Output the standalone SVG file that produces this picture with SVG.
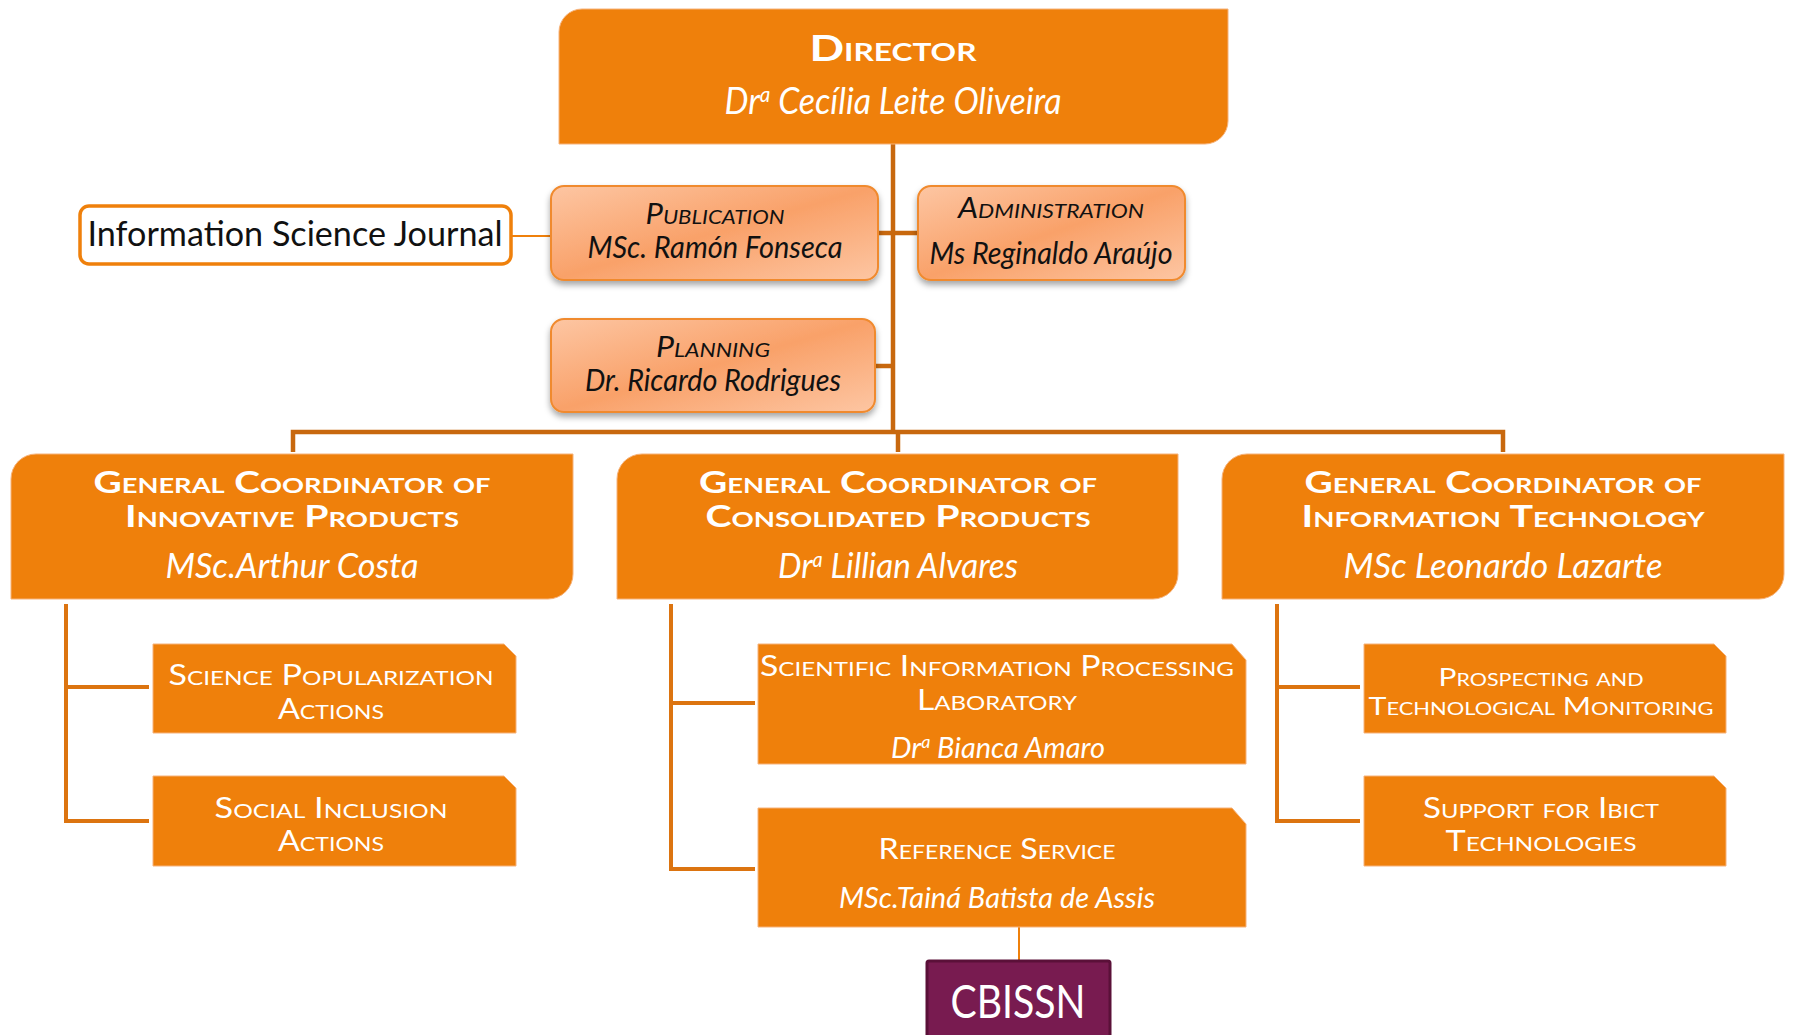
<svg xmlns="http://www.w3.org/2000/svg" width="1793" height="1035" viewBox="0 0 1793 1035">
<defs>
<linearGradient id="peach" x1="0" y1="0" x2="1" y2="1">
<stop offset="0" stop-color="#FDC6A3"/>
<stop offset="0.5" stop-color="#F9A169"/>
<stop offset="1" stop-color="#FDC6A3"/>
</linearGradient>
<filter id="shadow" x="-10%" y="-10%" width="120%" height="140%">
<feDropShadow dx="0" dy="4" stdDeviation="3" flood-color="#000" flood-opacity="0.35"/>
</filter>
</defs>
<style>
.main{fill:#EF800B;stroke:#F6B27A;stroke-width:1}
.peach{fill:url(#peach);stroke:#F08A2E;stroke-width:2;filter:url(#shadow)}
.trunk{stroke:#C8680E;stroke-width:4.5;fill:none}
.branch{stroke:#DC7410;stroke-width:4;fill:none}
.thin{stroke:#EF800B;stroke-width:2;fill:none}
text{font-family:Lato,"Open Sans","Liberation Sans",sans-serif;text-anchor:middle}
.wt{fill:#fff}
.bk{fill:#111}
.sc{font-variant:small-caps}
.b{font-weight:bold}
.i{font-style:italic}
</style>

<g id="connectors">
<line class="trunk" x1="893" y1="144" x2="893" y2="432"/>
<line class="trunk" x1="878" y1="233" x2="918" y2="233"/>
<line class="trunk" x1="875" y1="366" x2="893" y2="366"/>
<polyline class="trunk" points="293,452 293,432 1503,432 1503,452"/>
<line class="trunk" x1="898" y1="432" x2="898" y2="452"/>
<line class="thin" x1="511" y1="236" x2="551" y2="236"/>
<polyline class="branch" points="149,687 66,687 66,604 66,821 149,821"/>
<polyline class="branch" points="755,703 671,703 671,604 671,869 755,869"/>
<polyline class="branch" points="1360,687 1277,687 1277,604 1277,821 1360,821"/>
<line class="thin" x1="1019" y1="927" x2="1019" y2="961"/>
</g>

<g id="director">
<path class="main" d="M559,32 A23,23 0 0 1 582,9 H1228 V121 A23,23 0 0 1 1205,144 H559 Z"/>
<text class="wt b sc" x="893" y="61" font-size="36" textLength="167" lengthAdjust="spacingAndGlyphs">Director</text>
<text class="wt i" x="893" y="114" font-size="36" textLength="337" lengthAdjust="spacingAndGlyphs">Dr<tspan font-size="22" dy="-12">a</tspan><tspan dy="12"> Cecília Leite Oliveira</tspan></text>
</g>

<g id="journal">
<rect x="80" y="206" width="431" height="58" rx="9" fill="#fff" stroke="#EF800B" stroke-width="3.5"/>
<text class="bk" x="295" y="246" font-size="35" textLength="415" lengthAdjust="spacingAndGlyphs">Information Science Journal</text>
</g>

<g id="publication">
<rect class="peach" x="551" y="186" width="327" height="94" rx="13"/>
<text class="bk i sc" x="715" y="224" font-size="28" textLength="139" lengthAdjust="spacingAndGlyphs">Publication</text>
<text class="bk i" x="715" y="258" font-size="30" textLength="255" lengthAdjust="spacingAndGlyphs">MSc. Ramón Fonseca</text>
</g>

<g id="administration">
<rect class="peach" x="918" y="186" width="267" height="94" rx="13"/>
<text class="bk i sc" x="1051" y="218" font-size="28" textLength="186" lengthAdjust="spacingAndGlyphs">Administration</text>
<text class="bk i" x="1051" y="264" font-size="30" textLength="243" lengthAdjust="spacingAndGlyphs">Ms Reginaldo Araújo</text>
</g>

<g id="planning">
<rect class="peach" x="551" y="319" width="324" height="93" rx="13"/>
<text class="bk i sc" x="713" y="357" font-size="28" textLength="114" lengthAdjust="spacingAndGlyphs">Planning</text>
<text class="bk i" x="713" y="391" font-size="30" textLength="256" lengthAdjust="spacingAndGlyphs">Dr. Ricardo Rodrigues</text>
</g>

<g id="coord-innovative">
<path class="main" d="M11,479 A25,25 0 0 1 36,454 H573 V574 A25,25 0 0 1 548,599 H11 Z"/>
<text class="wt b sc" x="292" y="493" font-size="30" textLength="397" lengthAdjust="spacingAndGlyphs">General Coordinator of</text>
<text class="wt b sc" x="292" y="527" font-size="30" textLength="334" lengthAdjust="spacingAndGlyphs">Innovative Products</text>
<text class="wt i" x="292" y="578" font-size="35" textLength="253" lengthAdjust="spacingAndGlyphs">MSc.Arthur Costa</text>
</g>

<g id="coord-consolidated">
<path class="main" d="M617,479 A25,25 0 0 1 642,454 H1178 V574 A25,25 0 0 1 1153,599 H617 Z"/>
<text class="wt b sc" x="898" y="493" font-size="30" textLength="398" lengthAdjust="spacingAndGlyphs">General Coordinator of</text>
<text class="wt b sc" x="898" y="527" font-size="30" textLength="385" lengthAdjust="spacingAndGlyphs">Consolidated Products</text>
<text class="wt i" x="898" y="578" font-size="35" textLength="240" lengthAdjust="spacingAndGlyphs">Dr<tspan font-size="21" dy="-11">a</tspan><tspan dy="11"> Lillian Alvares</tspan></text>
</g>

<g id="coord-it">
<path class="main" d="M1222,479 A25,25 0 0 1 1247,454 H1784 V574 A25,25 0 0 1 1759,599 H1222 Z"/>
<text class="wt b sc" x="1503" y="493" font-size="30" textLength="397" lengthAdjust="spacingAndGlyphs">General Coordinator of</text>
<text class="wt b sc" x="1503" y="527" font-size="30" textLength="403" lengthAdjust="spacingAndGlyphs">Information Technology</text>
<text class="wt i" x="1503" y="578" font-size="35" textLength="319" lengthAdjust="spacingAndGlyphs">MSc Leonardo Lazarte</text>
</g>

<g id="science-popularization">
<path class="main" d="M153,644 H504 L516,656 V733 H153 Z"/>
<text class="wt sc" x="331" y="685" font-size="28" textLength="325" lengthAdjust="spacingAndGlyphs">Science Popularization</text>
<text class="wt sc" x="331" y="719" font-size="28" textLength="106" lengthAdjust="spacingAndGlyphs">Actions</text>
</g>

<g id="social-inclusion">
<path class="main" d="M153,776 H504 L516,788 V866 H153 Z"/>
<text class="wt sc" x="331" y="818" font-size="28" textLength="233" lengthAdjust="spacingAndGlyphs">Social Inclusion</text>
<text class="wt sc" x="331" y="851" font-size="28" textLength="106" lengthAdjust="spacingAndGlyphs">Actions</text>
</g>

<g id="scientific-lab">
<path class="main" d="M758,644 H1232 L1246,660 V764 H758 Z"/>
<text class="wt sc" x="997" y="676" font-size="28" textLength="474" lengthAdjust="spacingAndGlyphs">Scientific Information Processing</text>
<text class="wt sc" x="997" y="710" font-size="28" textLength="160" lengthAdjust="spacingAndGlyphs">Laboratory</text>
<text class="wt i" x="998" y="758" font-size="29" textLength="214" lengthAdjust="spacingAndGlyphs">Dr<tspan font-size="18" dy="-10">a</tspan><tspan dy="10"> Bianca Amaro</tspan></text>
</g>

<g id="reference-service">
<path class="main" d="M758,808 H1232 L1246,824 V927 H758 Z"/>
<text class="wt sc" x="997" y="859" font-size="28" textLength="237" lengthAdjust="spacingAndGlyphs">Reference Service</text>
<text class="wt i" x="997" y="908" font-size="29" textLength="316" lengthAdjust="spacingAndGlyphs">MSc.Tainá Batista de Assis</text>
</g>

<g id="prospecting">
<path class="main" d="M1364,644 H1714 L1726,656 V733 H1364 Z"/>
<text class="wt sc" x="1541" y="686" font-size="25" textLength="205" lengthAdjust="spacingAndGlyphs">Prospecting and</text>
<text class="wt sc" x="1541" y="715" font-size="25" textLength="345" lengthAdjust="spacingAndGlyphs">Technological Monitoring</text>
</g>

<g id="support-ibict">
<path class="main" d="M1364,776 H1714 L1726,788 V866 H1364 Z"/>
<text class="wt sc" x="1541" y="818" font-size="28" textLength="236" lengthAdjust="spacingAndGlyphs">Support for Ibict</text>
<text class="wt sc" x="1541" y="851" font-size="28" textLength="191" lengthAdjust="spacingAndGlyphs">Technologies</text>
</g>

<g id="cbissn">
<rect x="927" y="961" width="183" height="80" rx="2" fill="#781B50" stroke="#5A1038" stroke-width="3"/>
<text class="wt" x="1018" y="1018" font-size="46" textLength="135" lengthAdjust="spacingAndGlyphs">CBISSN</text>
</g>
</svg>
